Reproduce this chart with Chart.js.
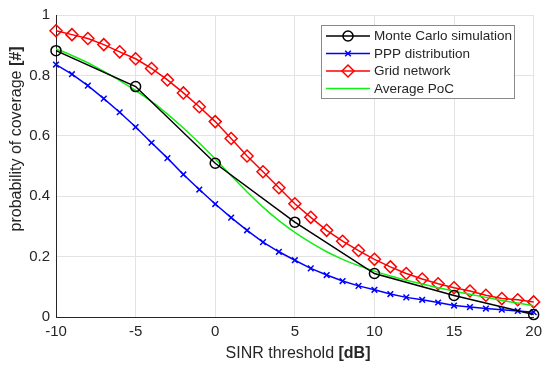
<!DOCTYPE html>
<html>
<head>
<meta charset="utf-8">
<script src="https://cdn.jsdelivr.net/npm/chart.js@4.4.0/dist/chart.umd.min.js"></script>
<style>
  body { margin: 0; background: #fff; }
  canvas { display: block; }
</style>
</head>
<body>
<canvas id="poc" width="548" height="371"></canvas>
<script>
// SINR thresholds (dB)
const sinrFine = [-10, -9, -8, -7, -6, -5, -4, -3, -2, -1, 0, 1, 2, 3, 4, 5, 6, 7, 8, 9, 10, 11, 12, 13, 14, 15, 16, 17, 18, 19, 20];
const sinrCoarse = [-10, -5, 0, 5, 10, 15, 20];

// coverage values
const monteCarlo = [0.882, 0.763, 0.509, 0.314, 0.144, 0.071, 0.008];
const pppDist = [0.836, 0.804, 0.766, 0.723, 0.678, 0.629, 0.577, 0.526, 0.472, 0.422, 0.374, 0.329, 0.287, 0.248, 0.216, 0.188, 0.161, 0.139, 0.119, 0.103, 0.090, 0.076, 0.065, 0.057, 0.048, 0.038, 0.033, 0.028, 0.024, 0.020, 0.016];
const gridNet = [0.948, 0.935, 0.922, 0.902, 0.878, 0.855, 0.823, 0.785, 0.742, 0.696, 0.647, 0.591, 0.533, 0.481, 0.428, 0.375, 0.330, 0.287, 0.251, 0.220, 0.191, 0.166, 0.144, 0.126, 0.110, 0.097, 0.086, 0.072, 0.061, 0.057, 0.050];
const avgPoc = [0.888, 0.866, 0.842, 0.813, 0.783, 0.750, 0.714, 0.672, 0.626, 0.576, 0.523, 0.468, 0.414, 0.364, 0.319, 0.280, 0.246, 0.216, 0.191, 0.170, 0.152, 0.136, 0.122, 0.109, 0.097, 0.086, 0.075, 0.065, 0.055, 0.046, 0.037];

const xTicks = [-10, -5, 0, 5, 10, 15, 20];
const yTicks = [0, 0.2, 0.4, 0.6, 0.8, 1];

const legendNames = ["Monte Carlo simulation", "PPP distribution", "Grid network", "Average PoC"];

function pts(xs, ys) {
    return xs.map((x, i) => ({ x: x, y: ys[i] }));
}

const txtColor = "#262626";
const fontFam = "'Liberation Sans', Arial, sans-serif";

// axis titles with the bold unit part + boxed legend
const extras = {
    id: "extras",
    afterDraw(chart) {
        const ctx = chart.ctx;
        ctx.save();
        ctx.fillStyle = txtColor;
        ctx.textBaseline = "middle";

        // x title
        const xa = "SINR threshold ", xb = "[dB]";
        ctx.font = "16px " + fontFam;
        const wa = ctx.measureText(xa).width;
        ctx.font = "bold 16px " + fontFam;
        const wb = ctx.measureText(xb).width;
        let sx = 298 - (wa + wb) / 2;
        ctx.font = "16px " + fontFam;
        ctx.textAlign = "left";
        ctx.fillText(xa, sx, 354);
        ctx.font = "bold 16px " + fontFam;
        ctx.fillText(xb, sx + wa, 354);

        // y title
        ctx.save();
        ctx.translate(17, 139);
        ctx.rotate(-Math.PI / 2);
        const ya = "probability of coverage ", yb = "[#]";
        ctx.font = "16px " + fontFam;
        const ha = ctx.measureText(ya).width;
        ctx.font = "bold 16px " + fontFam;
        const hb = ctx.measureText(yb).width;
        let sy = -(ha + hb) / 2;
        ctx.font = "16px " + fontFam;
        ctx.fillText(ya, sy, 0);
        ctx.font = "bold 16px " + fontFam;
        ctx.fillText(yb, sy + ha, 0);
        ctx.restore();

        // legend
        const lx = 321.5, ly = 25.5, lw = 193, lh = 73;
        ctx.fillStyle = "#ffffff";
        ctx.fillRect(lx, ly, lw, lh);
        ctx.strokeStyle = "#8a8a8a";
        ctx.lineWidth = 1;
        ctx.strokeRect(lx, ly, lw, lh);
        const rows = [36, 53.5, 71, 88.5];
        chart.data.datasets.forEach((ds, i) => {
            const y = rows[i];
            ctx.strokeStyle = ds.borderColor;
            ctx.lineWidth = 1.5;
            ctx.beginPath();
            ctx.moveTo(326, y);
            ctx.lineTo(370, y);
            ctx.stroke();
            if (ds.pointStyle && ds.pointRadius > 0) {
                ctx.fillStyle = "rgba(0,0,0,0)";
                Chart.helpers.drawPoint(ctx, {
                    pointStyle: ds.pointStyle,
                    radius: ds.pointRadius,
                    borderWidth: ds.pointBorderWidth
                }, 348, y);
            }
            ctx.font = "13.5px " + fontFam;
            ctx.fillStyle = txtColor;
            ctx.textAlign = "left";
            ctx.fillText(legendNames[i], 374, y + 0.5);
        });
        ctx.restore();
    }
};

new Chart("poc", {
    type: "line",
    data: {
        datasets: [{
            label: legendNames[0],
            data: pts(sinrCoarse, monteCarlo),
            borderColor: "#000000",
            backgroundColor: "rgba(0,0,0,0)",
            borderWidth: 1.5,
            pointStyle: "circle",
            pointRadius: 5,
            pointBorderWidth: 1.5,
            clip: false,
            order: 1
        }, {
            label: legendNames[1],
            data: pts(sinrFine, pppDist),
            borderColor: "#0000ff",
            backgroundColor: "rgba(0,0,0,0)",
            borderWidth: 1.5,
            pointStyle: "crossRot",
            pointRadius: 4,
            pointBorderWidth: 1.5,
            clip: false,
            order: 4
        }, {
            label: legendNames[2],
            data: pts(sinrFine, gridNet),
            borderColor: "#ff0000",
            backgroundColor: "rgba(0,0,0,0)",
            borderWidth: 1.5,
            pointStyle: "rectRot",
            pointRadius: 6,
            pointBorderWidth: 1.5,
            clip: false,
            order: 3
        }, {
            label: legendNames[3],
            data: pts(sinrFine, avgPoc),
            borderColor: "#11ee11",
            backgroundColor: "rgba(0,0,0,0)",
            borderWidth: 1.5,
            pointRadius: 0,
            cubicInterpolationMode: "monotone",
            order: 2
        }]
    },
    options: {
        responsive: false,
        animation: false,
        events: [],
        layout: { padding: { top: 11, right: 10, left: 0, bottom: 0 } },
        plugins: {
            legend: { display: false },
            tooltip: { enabled: false }
        },
        scales: {
            x: {
                type: "linear",
                min: -10,
                max: 20,
                afterBuildTicks: s => { s.ticks = xTicks.map(v => ({ value: v })); },
                afterFit: s => { s.height = 54; },
                ticks: {
                    color: txtColor,
                    font: { size: 15, family: fontFam },
                    padding: 6
                },
                grid: { color: "#e3e3e3", drawTicks: false },
                border: { color: "#262626", width: 1 }
            },
            y: {
                min: 0,
                max: 1,
                afterBuildTicks: s => { s.ticks = yTicks.map(v => ({ value: v })); },
                afterFit: s => { s.width = 56; },
                ticks: {
                    color: txtColor,
                    font: { size: 15, family: fontFam },
                    padding: 6,
                    callback: v => String(Math.round(v * 10) / 10)
                },
                grid: { color: "#e3e3e3", drawTicks: false },
                border: { color: "#262626", width: 1 }
            }
        }
    },
    plugins: [extras]
});
</script>
</body>
</html>
